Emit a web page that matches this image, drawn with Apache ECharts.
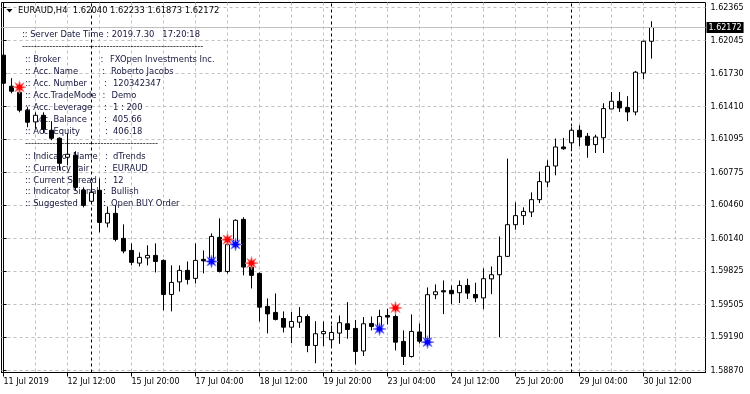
<!DOCTYPE html>
<html><head><meta charset="utf-8">
<script src="https://cdn.jsdelivr.net/npm/echarts@6/dist/echarts.min.js"></script>
<style>html,body{margin:0;padding:0;background:#fff}#c{width:750px;height:394px}</style>
</head><body><div id="c"></div>
<script>
// ---- data (EURAUD H4) ----
const barTimes = [
 '07-11 04:00','07-11 08:00','07-11 12:00','07-11 16:00','07-11 20:00',
 '07-12 00:00','07-12 04:00','07-12 08:00','07-12 12:00','07-12 16:00','07-12 20:00',
 '07-15 00:00','07-15 04:00','07-15 08:00','07-15 12:00','07-15 16:00','07-15 20:00',
 '07-16 00:00','07-16 04:00','07-16 08:00','07-16 12:00','07-16 16:00','07-16 20:00',
 '07-17 00:00','07-17 04:00','07-17 08:00','07-17 12:00','07-17 16:00','07-17 20:00',
 '07-18 00:00','07-18 04:00','07-18 08:00','07-18 12:00','07-18 16:00','07-18 20:00',
 '07-19 00:00','07-19 04:00','07-19 08:00','07-19 12:00','07-19 16:00','07-19 20:00',
 '07-22 00:00','07-22 04:00','07-22 08:00','07-22 12:00','07-22 16:00','07-22 20:00',
 '07-23 00:00','07-23 04:00','07-23 08:00','07-23 12:00','07-23 16:00','07-23 20:00',
 '07-24 00:00','07-24 04:00','07-24 08:00','07-24 12:00','07-24 16:00','07-24 20:00',
 '07-25 00:00','07-25 04:00','07-25 08:00','07-25 12:00','07-25 16:00','07-25 20:00',
 '07-26 00:00','07-26 04:00','07-26 08:00','07-26 12:00','07-26 16:00','07-26 20:00',
 '07-29 00:00','07-29 04:00','07-29 08:00','07-29 12:00','07-29 16:00','07-29 20:00',
 '07-30 00:00','07-30 04:00','07-30 08:00','07-30 12:00','07-30 16:00'
];
const openP = [1.61906,1.61607,1.61549,1.61376,1.61263,1.61327,1.61183,1.61106,1.60923,1.60942,
 1.60605,1.60499,1.60605,1.60290,1.60383,1.60142,1.60026,1.59904,1.59954,1.59978,
 1.59930,1.59602,1.59723,1.59834,1.59757,1.59940,1.59925,1.60152,1.59824,1.60084,
 1.60325,1.59866,1.59805,1.59487,1.59429,1.59371,1.59287,1.59335,1.59390,1.59111,
 1.59224,1.59166,1.59230,1.59320,1.59275,1.59058,1.59323,1.59294,1.59400,1.59390,
 1.59150,1.59005,1.59241,1.59178,1.59600,1.59638,1.59641,1.59619,1.59689,1.59602,
 1.59569,1.59752,1.59792,1.59969,1.60274,1.60361,1.60396,1.60515,1.60685,1.60839,
 1.61022,1.61062,1.61183,1.61125,1.61045,1.61111,1.61388,1.61462,1.61402,1.61359,
 1.61735,1.62040];
const highP = [1.61935,1.61684,1.61626,1.61405,1.61356,1.61356,1.61270,1.61115,1.61154,1.60981,
 1.60634,1.60682,1.60720,1.60450,1.60460,1.60277,1.60094,1.60007,1.60075,1.60094,
 1.59940,1.59882,1.59882,1.59920,1.60094,1.60026,1.60190,1.60335,1.60123,1.60325,
 1.60345,1.59901,1.59814,1.59564,1.59612,1.59439,1.59434,1.59480,1.59410,1.59345,
 1.59342,1.59304,1.59400,1.59528,1.59357,1.59384,1.59390,1.59455,1.59465,1.59448,
 1.59256,1.59410,1.59323,1.59670,1.59699,1.59737,1.59689,1.59737,1.59754,1.59715,
 1.59853,1.59872,1.60161,1.60910,1.60489,1.60441,1.60585,1.60785,1.60894,1.61103,
 1.61109,1.61212,1.61231,1.61157,1.61140,1.61443,1.61552,1.61552,1.61511,1.61754,
 1.62045,1.62233];
const lowP = [1.61588,1.61539,1.61356,1.61212,1.61202,1.61154,1.61087,1.60797,1.60846,1.60605,
 1.60441,1.60479,1.60200,1.60248,1.60113,1.59998,1.59882,1.59872,1.59882,1.59814,
 1.59448,1.59439,1.59631,1.59699,1.59708,1.59805,1.59911,1.59814,1.59805,1.60075,
 1.59786,1.59660,1.59342,1.59227,1.59352,1.59236,1.59133,1.59280,1.59046,1.58940,
 1.59106,1.59095,1.59127,1.59176,1.58928,1.59010,1.59256,1.59256,1.59313,1.59063,
 1.58923,1.58995,1.59130,1.59140,1.59557,1.59413,1.59509,1.59519,1.59559,1.59528,
 1.59461,1.59605,1.59191,1.59962,1.60226,1.60272,1.60347,1.60482,1.60634,1.60749,
 1.60995,1.60981,1.61029,1.60918,1.60964,1.60964,1.61385,1.61359,1.61270,1.61327,
 1.61674,1.61873];
const closeP = [1.61636,1.61559,1.61376,1.61260,1.61327,1.61193,1.61106,1.60865,1.60952,1.60634,
 1.60460,1.60585,1.60296,1.60383,1.60132,1.60020,1.59911,1.59959,1.59978,1.59920,
 1.59602,1.59718,1.59834,1.59747,1.59930,1.59925,1.60161,1.59824,1.60084,1.60316,
 1.59866,1.59786,1.59480,1.59415,1.59362,1.59287,1.59342,1.59390,1.59111,1.59224,
 1.59246,1.59236,1.59330,1.59265,1.59053,1.59320,1.59294,1.59390,1.59384,1.59143,
 1.59005,1.59246,1.59152,1.59600,1.59628,1.59627,1.59609,1.59689,1.59615,1.59569,
 1.59754,1.59792,1.59969,1.60274,1.60361,1.60402,1.60515,1.60689,1.60836,1.61022,
 1.61005,1.61183,1.61118,1.61038,1.61118,1.61392,1.61462,1.61398,1.61359,1.61742,
 1.62040,1.62172];
const sellBars = [2, 28, 31, 49];
const sellPrices = [1.61597, 1.60130, 1.59904, 1.59472];
const buyBars = [26, 29, 47, 53];
const buyPrices = [1.59920, 1.60084, 1.59270, 1.59143];
const weekStartBars = [11, 41, 71];
const xLabelBars = [0, 8, 16, 24, 32, 40, 48, 56, 64, 72, 80];
const xLabels = ['11 Jul 2019','12 Jul 12:00','15 Jul 20:00','17 Jul 04:00','18 Jul 12:00','19 Jul 20:00','23 Jul 04:00','24 Jul 12:00','25 Jul 20:00','29 Jul 04:00','30 Jul 12:00'];
const xGridBars = [0,4,8,12,16,20,24,28,32,36,40,44,48,52,56,60,64,68,72,76,80,84];
const yTickLabels = ['1.58870','1.59190','1.59505','1.59825','1.60140','1.60460','1.60775','1.61095','1.61410','1.61730','1.62045','1.62365'];
const symbolName = 'EURAUD,H4';
const infoRows = [
 ['Broker','FXOpen Investments Inc.'],
 ['Acc. Name','Roberto Jacobs'],
 ['Acc. Number','120342347'],
 ['Acc.TradeMode','Demo'],
 ['Acc. Leverage','1 : 200'],
 ['Acc. Balance','405.66'],
 ['Acc. Equity','406.18']
];
const indRows = [
 ['Indicator Name','dTrends'],
 ['Currency Pair','EURAUD'],
 ['Current Spread','12'],
 ['Indicator Signal','Bullish'],
 ['Suggested','Open BUY Order']
];
const serverTime = ':: Server Date Time : 2019.7.30   17:20:18';

// ---- build ----
const yTickValues = yTickLabels.map(Number);
const last = closeP.length - 1;
const candleData = openP.map((o, i) => [i, o, closeP[i], lowP[i], highP[i]]);
const FONT = '"DejaVu Sans", "Liberation Sans", sans-serif';

function starPath(n, inner) {
  let d = '';
  for (let i = 0; i < n * 2; i++) {
    const r = i % 2 ? inner : 1;
    const a = Math.PI * i / n - Math.PI / 2;
    d += (i ? 'L' : 'M') + (50 + 50 * r * Math.cos(a)).toFixed(2) + ' ' + (50 + 50 * r * Math.sin(a)).toFixed(2);
  }
  return 'path://' + d + 'Z';
}
const STAR = starPath(8, 0.42);

const infoColor = '#16163e';
const gText = [];
function addText(x, y, text, opts) {
  gText.push(Object.assign({type: 'text', x: x, y: y, z: 1, silent: true,
    style: {text: text, font: '8.4px ' + FONT, fill: infoColor, align: 'left', verticalAlign: 'middle'}}, opts || {}));
}
// title
gText.push({type: 'polygon', z: 5, silent: true, shape: {points: [[6.5, 9], [12.5, 9], [9.5, 12.5]]}, style: {fill: '#000'}});
addText(18, 11, symbolName + '  ' + [openP[last], highP[last], lowP[last], closeP[last]].map(v => v.toFixed(5)).join(' '), {z: 5});
gText[gText.length - 1].style.fill = '#000';
addText(22, 35, serverTime);
addText(22, 47, '-'.repeat(60));
gText[gText.length - 1].style.fill = '#000';
const colonX = [100.5, 102, 104, 102.5, 104, 104, 105];
const valX = [110, 111, 113, 111.5, 113, 112.5, 113];
infoRows.forEach((r, i) => {
  const y = 60 + i * 12;
  addText(25, y, ':: ' + r[0]);
  addText(colonX[i], y, ':');
  addText(valX[i], y, r[1]);
});
addText(25, 144, '-'.repeat(44));
gText[gText.length - 1].style.fill = '#000';
const colonX2 = [105, 104, 104, 103, 103];
const valX2 = [113, 112.5, 113, 111, 111];
indRows.forEach((r, i) => {
  const y = 157 + i * 11.75;
  addText(25, y, ':: ' + r[0]);
  addText(colonX2[i], y, ':');
  addText(valX2[i], y, r[1]);
});

const chart = echarts.init(document.getElementById('c'), null, {renderer: 'canvas'});
const gridLine = {show: true, lineStyle: {color: '#c0c0c0', type: [3, 3], width: 1}};
chart.setOption({
  animation: false,
  backgroundColor: '#fff',
  grid: {left: 1.5, right: 44.5, top: 2.5, bottom: 21.5, show: true, borderColor: '#000', borderWidth: 1, backgroundColor: 'transparent'},
  xAxis: [
    {type: 'value', min: -0.25, max: 87.75, position: 'bottom',
     axisLine: {show: false}, axisTick: {show: false, customValues: xGridBars},
     axisLabel: {show: false}, splitLine: gridLine},
    {type: 'value', min: -0.25, max: 87.75, position: 'bottom',
     axisLine: {show: true, lineStyle: {color: '#000'}},
     axisTick: {show: true, length: 4, customValues: xLabelBars, lineStyle: {color: '#000'}},
     axisLabel: {show: true, customValues: xLabelBars, align: 'left', margin: 5, color: '#000', fontSize: 8, fontFamily: FONT,
       formatter: v => { const i = xLabelBars.indexOf(Math.round(v)); return i >= 0 ? xLabels[i] : ''; }},
     splitLine: {show: false}}
  ],
  yAxis: {type: 'value', position: 'right', min: 1.588507, max: 1.624131,
    axisLine: {show: true, lineStyle: {color: '#000'}},
    axisTick: {show: true, length: 3, customValues: yTickValues, lineStyle: {color: '#000'}},
    axisLabel: {show: true, customValues: yTickValues, margin: 5, color: '#000', fontSize: 8, fontFamily: FONT,
      formatter: v => { const i = yTickValues.findIndex(t => Math.abs(t - v) < 1e-7); return i >= 0 ? yTickLabels[i] : ''; }},
    splitLine: gridLine},
  graphic: {elements: gText},
  series: [
    {type: 'candlestick', name: symbolName, xAxisIndex: 0, z: 3, barWidth: 4,
     data: candleData,
     itemStyle: {color: '#ffffff', color0: '#000000', borderColor: '#000000', borderColor0: '#000000', borderWidth: 1},
     emphasis: {disabled: true},
     markLine: {silent: true, symbol: 'none', animation: false, precision: 5,
       lineStyle: {color: '#c0c0c0', type: 'solid', width: 1},
       label: {show: true, position: 'end', distance: 1, formatter: closeP[last].toFixed(5),
         backgroundColor: '#000', color: '#fff', fontSize: 8, fontFamily: FONT, padding: [2, 2, 1, 2]},
       data: [{yAxis: closeP[last]}]}},
    {type: 'scatter', name: 'sell', xAxisIndex: 0, z: 4, symbol: STAR, symbolSize: 13,
     data: sellBars.map((b, i) => [b, sellPrices[i]]),
     itemStyle: {color: '#ff0000', borderColor: '#ff8080', borderWidth: 0.8, opacity: 1},
     emphasis: {disabled: true}},
    {type: 'scatter', name: 'buy', xAxisIndex: 0, z: 4, symbol: STAR, symbolSize: 13,
     data: buyBars.map((b, i) => [b, buyPrices[i]]),
     itemStyle: {color: '#0000ff', borderColor: '#8080ff', borderWidth: 0.8, opacity: 1},
     emphasis: {disabled: true},
     markLine: {silent: true, symbol: 'none', animation: false, z: 1, precision: 5,
       lineStyle: {color: '#000', type: [3, 3], width: 1}, label: {show: false},
       data: weekStartBars.map(b => ({xAxis: b}))}}
  ]
});
</script>
</body></html>
